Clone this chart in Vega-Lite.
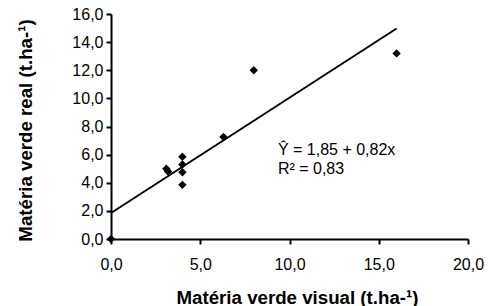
{
  "$schema": "https://vega.github.io/schema/vega-lite/v6.json",
  "width": 357,
  "height": 225,
  "autosize": "none",
  "padding": {"left": 111, "top": 14, "right": 20, "bottom": 67},
  "config": {
    "locale": {"number": {"decimal": ",", "thousands": ".", "grouping": [3], "currency": ["", ""]}},
    "view": {"stroke": null},
    "font": "Liberation Sans",
    "axis": {
      "grid": false,
      "domainColor": "black",
      "domainWidth": 2,
      "tickColor": "black",
      "tickWidth": 2,
      "tickSize": 5,
      "labelColor": "black",
      "labelFont": "Liberation Sans",
      "labelFontSize": 16,
      "labelOverlap": false,
      "labelFlush": false,
      "labelBound": false,
      "titleColor": "black",
      "titleFont": "Liberation Sans",
      "titleFontSize": 18.7,
      "titleFontWeight": "bold"
    }
  },
  "datasets": {
    "pts": [
      {"x": 0, "y": 0},
      {"x": 3.1, "y": 5.0},
      {"x": 3.2, "y": 4.8},
      {"x": 4.0, "y": 5.85},
      {"x": 4.0, "y": 5.3},
      {"x": 4.0, "y": 4.75},
      {"x": 4.0, "y": 3.85},
      {"x": 6.3, "y": 7.25},
      {"x": 8.0, "y": 12.0},
      {"x": 16.0, "y": 13.2}
    ],
    "fit": [
      {"x": 0, "y": 1.85},
      {"x": 16, "y": 14.97}
    ],
    "labels": [
      {"x": 9.35, "y": 6.3, "t": "Ŷ = 1,85 + 0,82x"},
      {"x": 9.35, "y": 4.95, "t": "R² = 0,83"}
    ]
  },
  "layer": [
    {
      "data": {"name": "fit"},
      "mark": {"type": "line", "color": "black", "strokeWidth": 2},
      "encoding": {
        "x": {"field": "x", "type": "quantitative", "scale": {"domain": [0, 20], "nice": false},
          "axis": {"values": [0, 5, 10, 15, 20], "tickCount": 10, "format": ".1f", "labelPadding": 12, "labelOverlap": false, "title": "Matéria verde visual (t.ha-¹)", "titleX": 186, "titleAlign": "center", "titleY": 58, "titleBaseline": "middle"}},
        "y": {"field": "y", "type": "quantitative", "scale": {"domain": [0, 16], "nice": false},
          "axis": {"values": [0, 2, 4, 6, 8, 10, 12, 14, 16], "tickCount": 20, "format": ".1f", "labelPadding": 3, "labelOverlap": false, "title": "Matéria verde real (t.ha-¹)", "titleX": -86, "titleY": 116, "titleAlign": "center", "titleBaseline": "middle"}}
      }
    },
    {
      "data": {"name": "pts"},
      "mark": {"type": "point", "shape": "diamond", "filled": true, "color": "black", "size": 70, "opacity": 1},
      "encoding": {
        "x": {"field": "x", "type": "quantitative"},
        "y": {"field": "y", "type": "quantitative"}
      }
    },
    {
      "data": {"name": "labels"},
      "mark": {"type": "text", "align": "left", "baseline": "middle", "fontSize": 16, "color": "black", "font": "Liberation Sans"},
      "encoding": {
        "x": {"field": "x", "type": "quantitative"},
        "y": {"field": "y", "type": "quantitative"},
        "text": {"field": "t"}
      }
    }
  ]
}
